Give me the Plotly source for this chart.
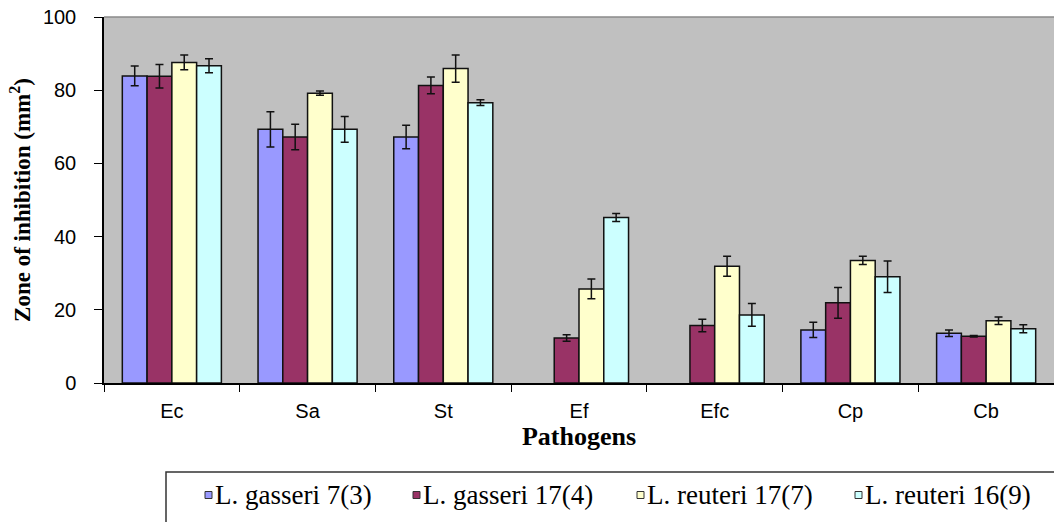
import plotly.graph_objects as go

pathogens = ["Ec", "Sa", "St", "Ef", "Efc", "Cp", "Cb"]

strains = ["L. gasseri 7(3)", "L. gasseri 17(4)", "L. reuteri 17(7)", "L. reuteri 16(9)"]

gasseri_7_3 = [83.9, 69.3, 67.2, None, None, 14.5, 13.6]
gasseri_7_3_err = [2.7, 4.8, 3.2, 0, 0, 2.1, 0.9]

gasseri_17_4 = [83.8, 67.2, 81.3, 12.3, 15.7, 21.9, 12.8]
gasseri_17_4_err = [3.2, 3.5, 2.3, 0.9, 1.7, 4.2, 0.2]

reuteri_17_7 = [87.6, 79.2, 85.9, 25.7, 31.9, 33.5, 17.0]
reuteri_17_7_err = [2.0, 0.6, 3.7, 2.7, 2.7, 1.1, 1.0]

reuteri_16_9 = [86.7, 69.3, 76.6, 45.2, 18.6, 29.0, 14.8]
reuteri_16_9_err = [1.9, 3.5, 0.8, 1.1, 3.1, 4.3, 1.1]

colors = ["#9999FF", "#993366", "#FFFFCC", "#CCFFFF"]

series = [
    (gasseri_7_3, gasseri_7_3_err),
    (gasseri_17_4, gasseri_17_4_err),
    (reuteri_17_7, reuteri_17_7_err),
    (reuteri_16_9, reuteri_16_9_err),
]

W, H = 1054, 522
ML, MR, MT, MB = 104, 0, 17, 139
PW, PH = W - ML - MR, H - MT - MB


def px_x(px):
    """Pixel column -> paper x."""
    return (px - ML) / PW


def px_y(py):
    """Pixel row -> paper y."""
    return (H - MB - py) / PH


fig = go.Figure()
for name, (vals, errs), col in zip(strains, series, colors):
    fig.add_trace(go.Bar(
        x=pathogens, y=vals, name=name, showlegend=False,
        marker=dict(color=col, line=dict(color="#111111", width=1.5)),
        error_y=dict(type="data", array=errs, visible=True,
                     color="#111111", thickness=1.5, width=4),
    ))

serif = "Liberation Serif, Times New Roman, serif"
sans = "Liberation Sans, Arial, sans-serif"

# Boxed key below the chart: small swatch + label for each strain
key_left = [205, 413, 637, 855]
key_row = 495
shapes = [
    dict(type="rect", xref="paper", yref="paper",
         x0=px_x(166), x1=px_x(W + 10), y0=px_y(472), y1=px_y(H + 10),
         line=dict(color="#333333", width=1.5), fillcolor="white", layer="below"),
    dict(type="line", xref="paper", yref="paper",
         x0=0, x1=1, y0=1, y1=1, line=dict(color="#8a8a8a", width=1.5)),
]
annotations = []
for name, col, left in zip(strains, colors, key_left):
    shapes.append(dict(
        type="rect", xref="paper", yref="paper",
        x0=px_x(left), x1=px_x(left + 7),
        y0=px_y(key_row + 3.5), y1=px_y(key_row - 3.5),
        fillcolor=col, line=dict(color="#333333", width=1),
    ))
    annotations.append(dict(
        text=name, xref="paper", yref="paper",
        x=px_x(left + 8), y=px_y(key_row),
        xanchor="left", yanchor="middle", showarrow=False,
        font=dict(family=serif, size=27, color="black"),
    ))

fig.update_layout(
    width=W, height=H,
    margin=dict(l=ML, r=MR, t=MT, b=MB, autoexpand=False),
    paper_bgcolor="white",
    plot_bgcolor="#C0C0C0",
    barmode="group",
    bargap=0.27,
    bargroupgap=0,
    showlegend=False,
    shapes=shapes,
    annotations=annotations,
)

fig.update_xaxes(
    showline=True, linecolor="black", linewidth=1.5,
    ticks="outside", tickson="boundaries", ticklen=7, tickcolor="black",
    tickfont=dict(family=sans, size=20, color="black"),
    ticklabelstandoff=9,
    title=dict(text="<b>Pathogens</b>", font=dict(family=serif, size=26, color="black"),
               standoff=0),
    showgrid=False, automargin=False,
)

fig.update_yaxes(
    range=[0, 100], tickvals=[0, 20, 40, 60, 80, 100],
    showline=True, linecolor="black", linewidth=1.5,
    ticks="outside", ticklen=8, tickcolor="black",
    tickfont=dict(family=sans, size=20, color="black"),
    ticklabelstandoff=14,
    title=dict(text="<b>Zone of inhibition (mm<sup>2</sup>)</b>",
               font=dict(family=serif, size=23, color="black"), standoff=6),
    showgrid=False, zeroline=False, automargin=False,
)

fig.write_html("out.html")
